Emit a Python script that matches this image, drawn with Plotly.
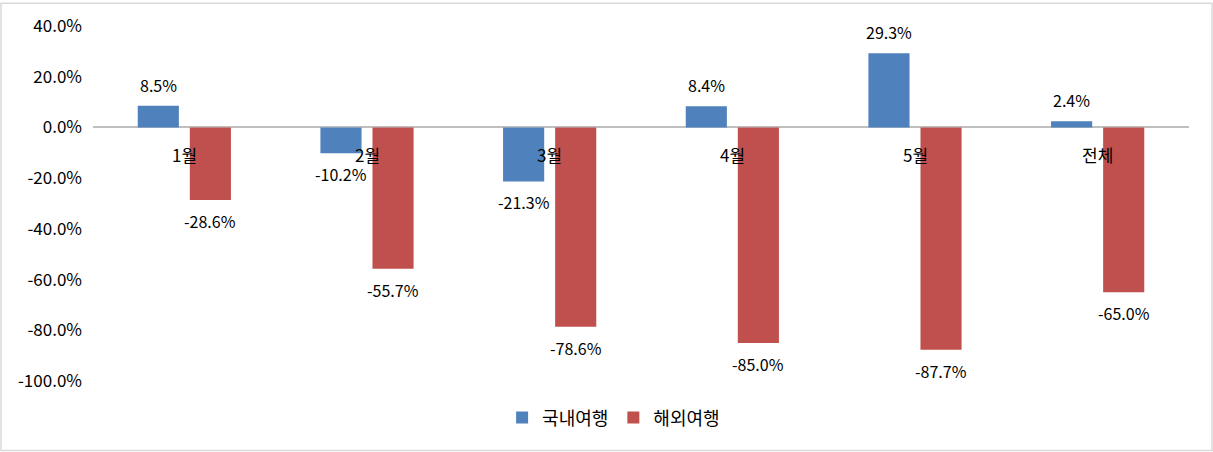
import plotly.graph_objects as go

# 월별 여행 증감률 (%)
categories = ['1월', '2월', '3월', '4월', '5월', '전체']
domestic = [8.5, -10.2, -21.3, 8.4, 29.3, 2.4]
overseas = [-28.6, -55.7, -78.6, -85.0, -87.7, -65.0]
series_names = ['국내여행', '해외여행']
y_ticks = [40, 20, 0, -20, -40, -60, -80, -100]

colors = ['#4F81BD', '#C0504D']
font_family = 'Noto Sans CJK KR, Malgun Gothic, sans-serif'

fig = go.Figure()
for name, vals, col in zip(series_names, [domestic, overseas], colors):
    fig.add_trace(go.Bar(
        x=categories,
        y=vals,
        name=name,
        marker=dict(color=col, line=dict(width=0)),
        hoverinfo='skip',
    ))

# data labels a bit away from bar ends (Excel "outside end")
for vals, dx in [(domestic, -26), (overseas, 26)]:
    for c, v in zip(categories, vals):
        fig.add_annotation(
            x=c, y=v, xref='x', yref='y',
            text=f'{v:.1f}%', showarrow=False,
            xshift=dx,
            yanchor='bottom' if v >= 0 else 'top',
            yshift=7 if v >= 0 else -7,
            font=dict(size=16, color='#000000', family=font_family),
        )

# category labels sit just under the zero line, like Excel
for c in categories:
    fig.add_annotation(
        x=c, y=0, xref='x', yref='y',
        text=c, showarrow=False,
        yanchor='top', yshift=-13,
        font=dict(size=17, color='#000000', family=font_family),
    )

# outer chart border
L, R, T, B = 93, 24, 24, 71
W, H = 1213, 452
pw, ph = W - L - R, H - T - B
fig.add_shape(
    type='rect', xref='paper', yref='paper',
    x0=-(L - 1) / pw, x1=1 + (R - 1) / pw,
    y0=-(B - 1) / ph, y1=1 + (T - 1) / ph,
    line=dict(color='#D9D9D9', width=1.5),
    fillcolor='rgba(0,0,0,0)',
)

fig.update_layout(
    width=W, height=H,
    margin=dict(l=L, r=R, t=T, b=B),
    paper_bgcolor='white',
    plot_bgcolor='white',
    barmode='group',
    bargap=0.43,
    bargroupgap=0.21,
    font=dict(family=font_family, size=16, color='#000000'),
    xaxis=dict(showticklabels=False, showgrid=False, zeroline=False,
               showline=False, ticks=''),
    yaxis=dict(
        range=[-100, 40],
        tickvals=y_ticks,
        ticktext=[f'{v:.1f}%' for v in y_ticks],
        tickfont=dict(size=17, color='#000000'),
        ticklabelstandoff=10,
        showgrid=False,
        zeroline=True, zerolinecolor='#BFBFBF', zerolinewidth=1.5,
        showline=False, ticks='',
    ),
    legend=dict(
        orientation='h',
        x=0.475, xanchor='center',
        y=-0.104, yanchor='middle',
        font=dict(size=18, color='#000000'),
        itemsizing='constant',
        itemwidth=30,
        tracegroupgap=0,
    ),
    showlegend=True,
)

# page body has a default 8px margin; drop it so the figure fills the window
fig.write_html('out.html', config={'displayModeBar': False},
               post_script="document.body.style.margin='0';")
